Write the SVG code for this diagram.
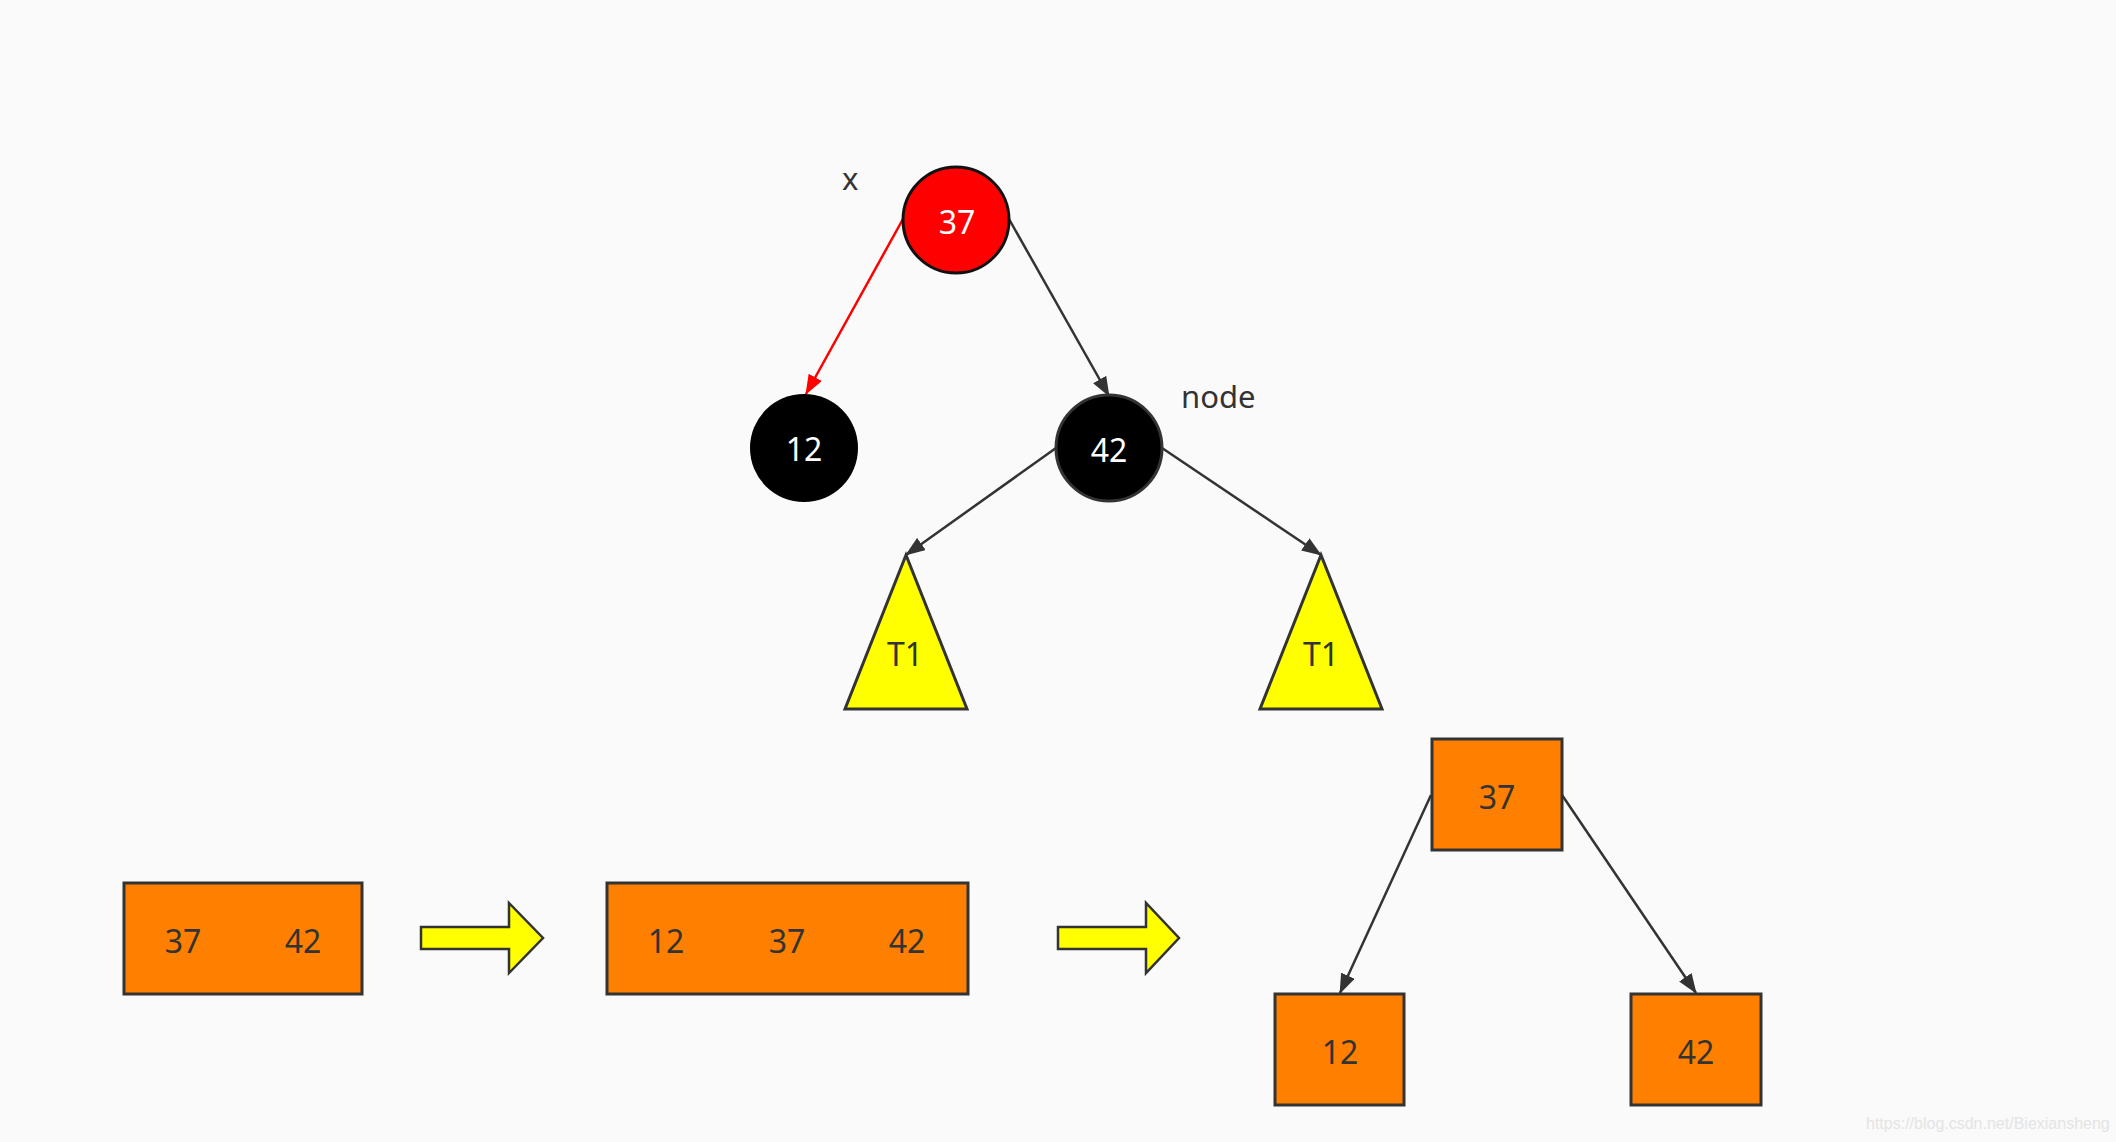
<svg xmlns="http://www.w3.org/2000/svg" width="2116" height="1142" viewBox="0 0 2116 1142">
<style>
  text { font-family: "Noto Sans", "Open Sans", "DejaVu Sans", sans-serif; font-size: 32px; fill: #333; text-anchor: middle; }
  .w { fill: #fff; }
  .lbl { font-size: 31px; text-anchor: start; }
  .box { fill: #ff8000; stroke: #333; stroke-width: 3; }
  .tri { fill: #ffff00; stroke: #333; stroke-width: 3; }
  .big { fill: #ffff00; stroke: #333; stroke-width: 2.5; }
  .edge { stroke: #333; stroke-width: 2.5; fill: none; marker-end: url(#ah); }
  .red { stroke: #ff0000; stroke-width: 2.5; fill: none; marker-end: url(#ahr); }
  .wm { font-family: "Liberation Sans", Arial, sans-serif; font-size: 16px; fill: #e4e4e4; text-anchor: start; }
</style>
<defs>
  <marker id="ah" markerUnits="userSpaceOnUse" markerWidth="20" markerHeight="15" refX="19" refY="7.5" orient="auto">
    <path d="M0,0 L20,7.5 L0,15 z" fill="#333"/>
  </marker>
  <marker id="ahr" markerUnits="userSpaceOnUse" markerWidth="20" markerHeight="15" refX="19" refY="7.5" orient="auto">
    <path d="M0,0 L20,7.5 L0,15 z" fill="#ff0000"/>
  </marker>
</defs>
<rect width="2116" height="1142" fill="#fafafa"/>

<g id="connectors">
  <line class="red" x1="903" y1="219" x2="806" y2="394"/>
  <line class="edge" x1="1009" y1="219" x2="1109" y2="396"/>
  <line class="edge" x1="1056" y1="448" x2="906" y2="555"/>
  <line class="edge" x1="1162" y1="448" x2="1321" y2="555"/>
  <line class="edge" x1="1431" y1="795" x2="1340" y2="993"/>
  <line class="edge" x1="1562" y1="795" x2="1696" y2="993"/>
</g>

<g id="label-x"><text class="lbl" x="842" y="190">x</text></g>
<g id="label-node"><text class="lbl" x="1181" y="408">node</text></g>

<g id="n37">
  <circle cx="956" cy="220" r="53" fill="#ff0000" stroke="#111" stroke-width="3"/>
  <text class="w" x="957" y="234">37</text>
</g>
<g id="n12">
  <circle cx="804" cy="448" r="54" fill="#000"/>
  <text class="w" x="804" y="461">12</text>
</g>
<g id="n42">
  <circle cx="1109" cy="448" r="53" fill="#000" stroke="#333" stroke-width="3"/>
  <text class="w" x="1109" y="462">42</text>
</g>

<g id="t1-left">
  <polygon class="tri" points="906,555 967,709 845,709"/>
  <text x="905" y="666">T1</text>
</g>
<g id="t1-right">
  <polygon class="tri" points="1321,555 1382,709 1260,709"/>
  <text x="1321" y="666">T1</text>
</g>

<g id="box1">
  <rect class="box" x="124" y="883" width="238" height="111"/>
  <text x="183" y="953">37</text>
  <text x="303" y="953">42</text>
</g>
<g id="arrow1">
  <polygon class="big" points="421,927 509,927 509,903 543,938 509,973 509,949 421,949"/>
</g>
<g id="box2">
  <rect class="box" x="607" y="883" width="361" height="111"/>
  <text x="666" y="953">12</text>
  <text x="787" y="953">37</text>
  <text x="907" y="953">42</text>
</g>
<g id="arrow2">
  <polygon class="big" points="1058,927 1146,927 1146,903 1179,938 1146,973 1146,949 1058,949"/>
</g>

<g id="r37">
  <rect class="box" x="1432" y="739" width="130" height="111"/>
  <text x="1497" y="809">37</text>
</g>
<g id="r12">
  <rect class="box" x="1275" y="994" width="129" height="111"/>
  <text x="1340" y="1064">12</text>
</g>
<g id="r42">
  <rect class="box" x="1631" y="994" width="130" height="111"/>
  <text x="1696" y="1064">42</text>
</g>

<text class="wm" x="1866" y="1129">https://blog.csdn.net/Biexiansheng</text>
</svg>
